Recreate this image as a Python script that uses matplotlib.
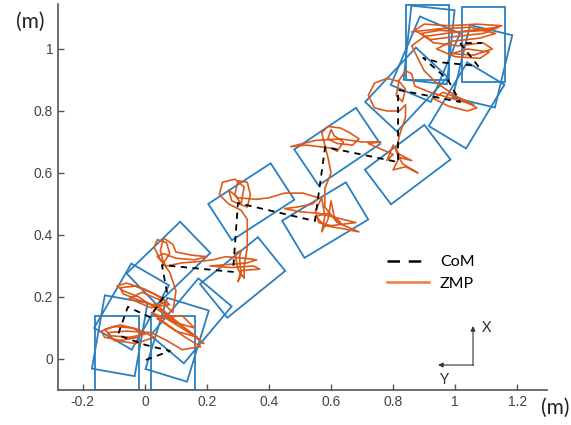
import numpy as np
import matplotlib
matplotlib.use("Agg")
import matplotlib.pyplot as plt
from matplotlib.patches import Rectangle
from matplotlib.lines import Line2D

# footprints: centre x, centre y (m), rotation (deg), foot size 0.14 x 0.24 m
foot_x = [-0.09, 0.09, -0.081, 0.104, -0.043, 0.149, 0.076, 0.315, 0.343, 0.581,
          0.62, 0.847, 0.843, 1.037, 0.904, 1.088, 0.916, 1.092, 0.911]
foot_y = [0.02, 0.02, 0.075, 0.062, 0.169, 0.123, 0.309, 0.263, 0.507, 0.448,
          0.685, 0.627, 0.869, 0.818, 0.967, 0.944, 1.013, 1.015, 1.021]
foot_angle = [0, 0, -10, -17, -30, -40, -46, -51, -57, -59,
              -56, -53, -43, -31, -23, -13.5, -6, 0, 0]
foot_w = 0.14
foot_l = 0.24

# centre of mass path
com_x = [0.003, 0.081, 0.003, -0.087, -0.055, 0.016, 0.071, 0.055, 0.284, 0.300,
         0.548, 0.581, 0.816, 0.816, 1.016, 0.977, 0.897, 0.942, 1.074, 1.016, 1.087]
com_y = [-0.003, 0.026, 0.045, 0.077, 0.168, 0.135, 0.216, 0.303, 0.281, 0.503,
         0.445, 0.684, 0.635, 0.868, 0.829, 0.900, 0.971, 0.958, 0.945, 1.019, 1.019]

# zero moment point trajectory
zmp = [
    # first feet
    (-0.02, 0.07), (-0.08, 0.06), (-0.13, 0.07), (-0.14, 0.09), (-0.10, 0.105), (-0.04, 0.10),
    (0.0, 0.08), (-0.05, 0.07), (-0.11, 0.075), (-0.13, 0.095), (-0.08, 0.11), (-0.02, 0.095),
    (0.03, 0.07), (-0.03, 0.05), (-0.10, 0.06), (-0.12, 0.085), (-0.06, 0.09), (0.02, 0.085),
    (0.07, 0.06), (0.12, 0.03), (0.18, 0.04), (0.13, 0.07), (0.06, 0.12), (0.02, 0.15),
    (0.07, 0.13), (0.15, 0.08), (0.19, 0.05), (0.14, 0.09), (0.08, 0.14), (0.03, 0.18),
    (0.09, 0.12), (0.16, 0.10), (0.12, 0.14), (0.04, 0.13), (0.10, 0.09), (0.17, 0.07),
    (0.10, 0.12), (0.04, 0.16),
    # second left
    (-0.02, 0.20), (-0.07, 0.22), (-0.09, 0.235), (-0.06, 0.245), (0.0, 0.225), (0.05, 0.20),
    (0.08, 0.175), (0.04, 0.17), (-0.02, 0.19), (-0.07, 0.21), (-0.08, 0.23), (-0.03, 0.235),
    (0.03, 0.21), (0.07, 0.185), (0.02, 0.165), (-0.05, 0.195), (-0.01, 0.215), (0.05, 0.19),
    (0.09, 0.15), (0.10, 0.22), (0.08, 0.28),
    # turning
    (0.05, 0.32), (0.03, 0.36), (0.04, 0.385), (0.07, 0.375), (0.08, 0.34), (0.06, 0.31),
    (0.05, 0.35), (0.06, 0.39), (0.09, 0.37), (0.10, 0.345), (0.15, 0.335), (0.20, 0.33),
    (0.16, 0.32), (0.10, 0.325), (0.06, 0.34), (0.04, 0.33), (0.07, 0.30), (0.12, 0.31),
    (0.18, 0.315), (0.22, 0.32), (0.26, 0.33), (0.32, 0.325), (0.36, 0.32), (0.33, 0.31),
    (0.27, 0.305), (0.21, 0.30), (0.28, 0.295), (0.35, 0.30), (0.37, 0.29), (0.31, 0.285),
    (0.30, 0.25), (0.31, 0.27), (0.305, 0.33), (0.31, 0.35), (0.29, 0.34), (0.30, 0.29),
    (0.32, 0.26), (0.32, 0.30), (0.33, 0.36), (0.33, 0.42),
    (0.33, 0.45), (0.31, 0.48), (0.27, 0.50), (0.24, 0.53), (0.25, 0.57), (0.29, 0.58),
    (0.32, 0.555), (0.31, 0.50), (0.29, 0.53), (0.30, 0.575), (0.33, 0.57), (0.34, 0.53),
    (0.33, 0.49), (0.28, 0.51), (0.27, 0.545), (0.30, 0.52), (0.36, 0.515), (0.40, 0.52),
    (0.45, 0.535), (0.51, 0.535), (0.56, 0.52), (0.54, 0.50), (0.49, 0.49), (0.45, 0.485),
    (0.50, 0.475), (0.56, 0.47), (0.62, 0.455), (0.68, 0.44),
    (0.60, 0.43), (0.56, 0.44), (0.55, 0.48), (0.57, 0.52), (0.58, 0.46), (0.57, 0.41),
    (0.59, 0.45), (0.60, 0.51), (0.61, 0.46), (0.63, 0.44), (0.59, 0.47), (0.55, 0.46),
    (0.58, 0.43), (0.64, 0.42), (0.69, 0.41), (0.62, 0.44), (0.58, 0.49), (0.58, 0.55),
    (0.60, 0.60), (0.59, 0.65),
    (0.58, 0.69), (0.57, 0.73), (0.59, 0.75), (0.63, 0.745), (0.66, 0.73), (0.69, 0.71),
    (0.67, 0.69), (0.62, 0.695), (0.59, 0.71), (0.60, 0.74), (0.61, 0.72), (0.64, 0.70),
    (0.62, 0.67), (0.60, 0.68), (0.52, 0.69), (0.47, 0.685), (0.55, 0.705), (0.63, 0.71),
    (0.70, 0.70), (0.76, 0.70), (0.72, 0.695),
    (0.80, 0.66), (0.78, 0.64), (0.80, 0.69), (0.82, 0.66), (0.86, 0.64), (0.82, 0.65),
    (0.80, 0.61), (0.84, 0.62), (0.88, 0.60), (0.83, 0.63), (0.81, 0.67), (0.82, 0.72),
    (0.84, 0.78), (0.84, 0.82),
    # last steps
    (0.82, 0.80), (0.78, 0.80), (0.74, 0.81), (0.72, 0.85), (0.74, 0.89), (0.78, 0.905),
    (0.82, 0.895), (0.84, 0.87), (0.83, 0.83), (0.81, 0.85), (0.82, 0.90), (0.84, 0.93),
    (0.86, 0.92), (0.87, 0.88),
    (0.92, 0.86), (0.99, 0.84), (1.06, 0.82), (1.03, 0.835), (0.96, 0.86), (0.93, 0.84),
    (0.98, 0.815), (1.04, 0.80), (1.07, 0.81), (1.00, 0.85), (0.94, 0.89), (0.90, 0.93),
    (0.88, 0.97), (0.86, 1.01), (0.90, 1.04), (0.97, 1.05), (1.05, 1.06), (1.14, 1.07),
    (1.09, 1.05), (1.00, 1.04), (0.92, 1.03), (0.87, 1.06), (0.90, 1.08), (0.98, 1.075),
    (1.07, 1.08), (1.15, 1.075), (1.10, 1.06), (1.02, 1.055), (0.95, 1.06), (0.89, 1.05),
    (0.93, 1.02), (1.01, 1.01), (1.09, 1.02), (1.12, 1.00), (1.06, 0.98), (0.99, 0.985),
    (1.04, 1.00), (1.11, 0.99), (1.08, 0.97), (1.00, 0.975), (0.94, 1.00), (0.99, 1.025),
    (1.08, 1.035), (1.13, 1.05), (1.05, 1.07), (0.95, 1.065), (0.86, 1.055),
]
zmp_x = [p[0] for p in zmp]
zmp_y = [p[1] for p in zmp]

xticks = [-0.2, 0, 0.2, 0.4, 0.6, 0.8, 1, 1.2]
yticks = [0, 0.2, 0.4, 0.6, 0.8, 1]

blue = '#2a7fc0'
orange = '#dd5a1c'

fig = plt.figure(figsize=(5.71, 4.25), dpi=100)
ax = fig.add_axes([58/571, 35/425, 489/571, 386/425])

for cx, cy, a in zip(foot_x, foot_y, foot_angle):
    r = Rectangle((cx - foot_w/2, cy - foot_l/2), foot_w, foot_l, angle=a,
                  rotation_point='center', fill=False, edgecolor=blue, lw=1.3)
    ax.add_patch(r)

ax.plot(zmp_x, zmp_y, color=orange, lw=1.2)
ax.plot(com_x, com_y, color='black', lw=1.3, ls=(0, (3.5, 3)))

ax.set_xlim(-0.28, 1.296)
ax.set_ylim(-0.1, 1.145)
for s in ['top', 'right']:
    ax.spines[s].set_visible(False)
for s in ['left', 'bottom']:
    ax.spines[s].set_color('#555555')
    ax.spines[s].set_linewidth(1.2)
ax.set_xticks(xticks)
ax.set_xticklabels(['-0.2', '0', '0.2', '0.4', '0.6', '0.8', '1', '1.2'])
ax.set_yticks(yticks)
ax.set_yticklabels(['0', '0.2', '0.4', '0.6', '0.8', '1'])
ax.tick_params(direction='in', length=4, width=1, colors='#555555',
               labelcolor='#444444', labelsize=10)
for lab in ax.get_xticklabels() + ax.get_yticklabels():
    lab.set_family('Liberation Sans')

handles = [Line2D([], [], color='black', lw=1.8, ls=(0, (5, 3.5))),
           Line2D([], [], color='#ee7a3a', lw=1.8)]
ax.legend(handles, ['CoM', 'ZMP'], loc='center', bbox_to_anchor=(431/571, 1 - 273/425),
          bbox_transform=fig.transFigure, frameon=False, handlelength=2.6,
          handletextpad=0.7, labelspacing=0.45, prop={'family': 'Lato', 'size': 11.5})

fig.text(30/571, 1 - 22/425, '(m)', ha='center', va='center', fontsize=15,
         family='Lato', color='#222222')
fig.text(555/571, 1 - 408/425, '(m)', ha='center', va='center', fontsize=15,
         family='Lato', color='#222222')

# orientation marker
ax.annotate('', xy=(473/571, 1 - 326/425), xytext=(473/571, 1 - 365.5/425),
            xycoords='figure fraction', textcoords='figure fraction',
            arrowprops=dict(arrowstyle='-|>', color='#333333', lw=0.8, mutation_scale=7,
                            shrinkA=0, shrinkB=0))
ax.annotate('', xy=(438/571, 1 - 365/425), xytext=(473.4/571, 1 - 365/425),
            xycoords='figure fraction', textcoords='figure fraction',
            arrowprops=dict(arrowstyle='-|>', color='#333333', lw=0.8, mutation_scale=7,
                            shrinkA=0, shrinkB=0))
fig.text(487/571, 1 - 328/425, 'X', ha='center', va='center', fontsize=10.5,
         family='Lato', color='#333333')
fig.text(445/571, 1 - 380/425, 'Y', ha='center', va='center', fontsize=10.5,
         family='Lato', color='#333333')

fig.savefig('out.png', dpi=100)
